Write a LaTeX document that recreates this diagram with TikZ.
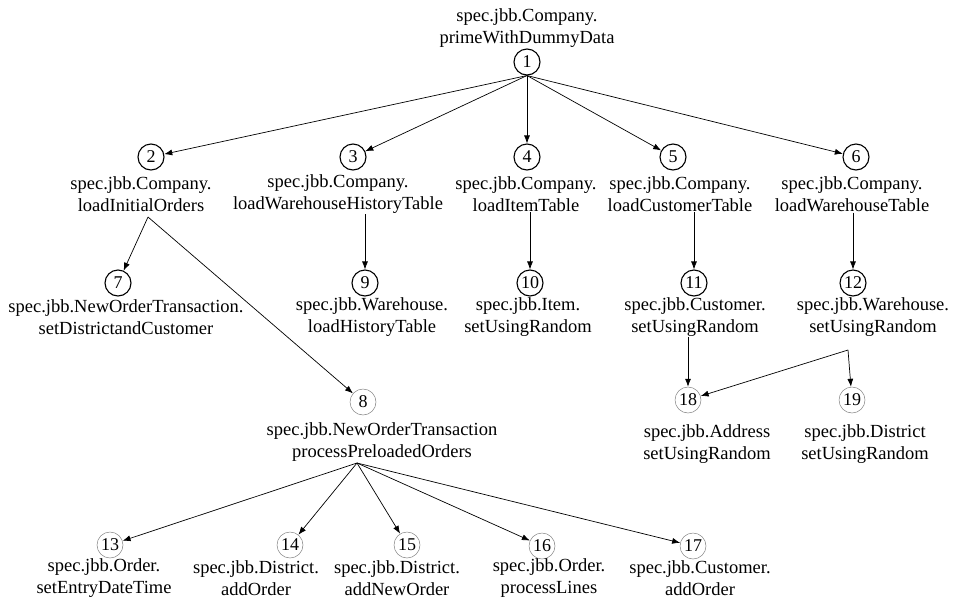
\documentclass[tikz,border=0pt]{standalone}
\usepackage{fontspec}
\setmainfont{Liberation Serif}
\usetikzlibrary{arrows.meta}

\begin{document}
\begin{tikzpicture}[x=1pt,y=-1pt]
  \tikzstyle{call} = [circle, minimum size=26pt, inner sep=0pt, draw=black, line width=1.1pt, font=\fontsize{18}{20}\selectfont]
  \tikzstyle{callthin} = [call, draw=gray, line width=0.5pt]
  \tikzstyle{method} = [align=center, inner sep=1pt, font=\fontsize{18.5}{21.5}\selectfont]

  \tikzstyle{arrow} = [-{Latex[length=8pt,width=6pt]}, line width=0.7pt]

  \useasboundingbox (0,0) rectangle (961,603);

  % circles
  \node (c1) [call] at (527,62) {1};
  \node (c2) [call] at (151,157) {2};
  \node (c3) [call] at (353,157) {3};
  \node (c4) [call] at (527,157) {4};
  \node (c5) [call] at (673,157) {5};
  \node (c6) [call] at (856,157) {6};
  \node (c7) [call] at (118,283) {7};
  \node (c9) [call] at (365,283) {9};
  \node (c10) [call] at (530,283) {10};
  \node (c11) [call] at (694,283) {11};
  \node (c12) [call] at (853,283) {12};
  \node (c8) [callthin] at (363,402) {8};
  \node (c18) [callthin] at (688,400) {18};
  \node (c19) [callthin] at (852,400) {19};
  \node (c13) [callthin] at (110,545) {13};
  \node (c14) [callthin] at (290,545) {14};
  \node (c15) [callthin] at (407,545) {15};
  \node (c16) [callthin] at (542,546) {16};
  \node (c17) [callthin] at (693,546) {17};

  % method names
  \node (t1) [method] at (527,28) {spec.jbb.Company.\\primeWithDummyData};
  \node (t2) [method] at (141,194) {spec.jbb.Company.\\loadInitialOrders};
  \node (t3) [method] at (338,194) {spec.jbb.Company.\\loadWarehouseHistoryTable};
  \node (t4) [method] at (526,194) {spec.jbb.Company.\\loadItemTable};
  \node (t5) [method] at (680,194) {spec.jbb.Company.\\loadCustomerTable};
  \node (t6) [method] at (852,194) {spec.jbb.Company.\\loadWarehouseTable};
  \node (t7) [method] at (126,317) {spec.jbb.NewOrderTransaction.\\setDistrictandCustomer};
  \node (t9) [method] at (372,317) {spec.jbb.Warehouse.\\loadHistoryTable};
  \node (t10) [method] at (528,317) {spec.jbb.Item.\\setUsingRandom};
  \node (t11) [method] at (695,317) {spec.jbb.Customer.\\setUsingRandom};
  \node (t12) [method] at (873,317) {spec.jbb.Warehouse.\\setUsingRandom};
  \node (t8) [method] at (382,442) {spec.jbb.NewOrderTransaction\\processPreloadedOrders};
  \node (t18) [method] at (707,444) {spec.jbb.Address\\setUsingRandom};
  \node (t19) [method] at (865,444) {spec.jbb.District\\setUsingRandom};
  \node (t13) [method] at (104,578) {spec.jbb.Order.\\setEntryDateTime};
  \node (t14) [method] at (256,578) {spec.jbb.District.\\addOrder};
  \node (t15) [method] at (397,578) {spec.jbb.District.\\addNewOrder};
  \node (t16) [method] at (549,578) {spec.jbb.Order.\\processLines};
  \node (t17) [method] at (700,578) {spec.jbb.Customer.\\addOrder};

  % fork points below the names
  \coordinate (f2) at (148,217);
  \coordinate (f8) at (357,463);
  \coordinate (f12) at (848,350);

  \foreach \i in {2,...,6}
    \draw [arrow] (c1.south) -- (c\i);
  \draw [arrow] (f2) -- (c7);
  \draw [arrow] (f2) -- (c8);
  \draw [arrow] (c9 |- t3.south) -- (c9);
  \draw [arrow] (c10 |- t4.south) -- (c10);
  \draw [arrow] (c11 |- t5.south) -- (c11);
  \draw [arrow] (c12 |- t6.south) -- (c12);
  \draw [arrow] (c18 |- t11.south) -- (c18);
  \draw [arrow] (f12) -- (c18);
  \draw [arrow] (f12) -- (c19);
  \foreach \i in {13,...,17}
    \draw [arrow] (f8) -- (c\i);
\end{tikzpicture}
\end{document}
